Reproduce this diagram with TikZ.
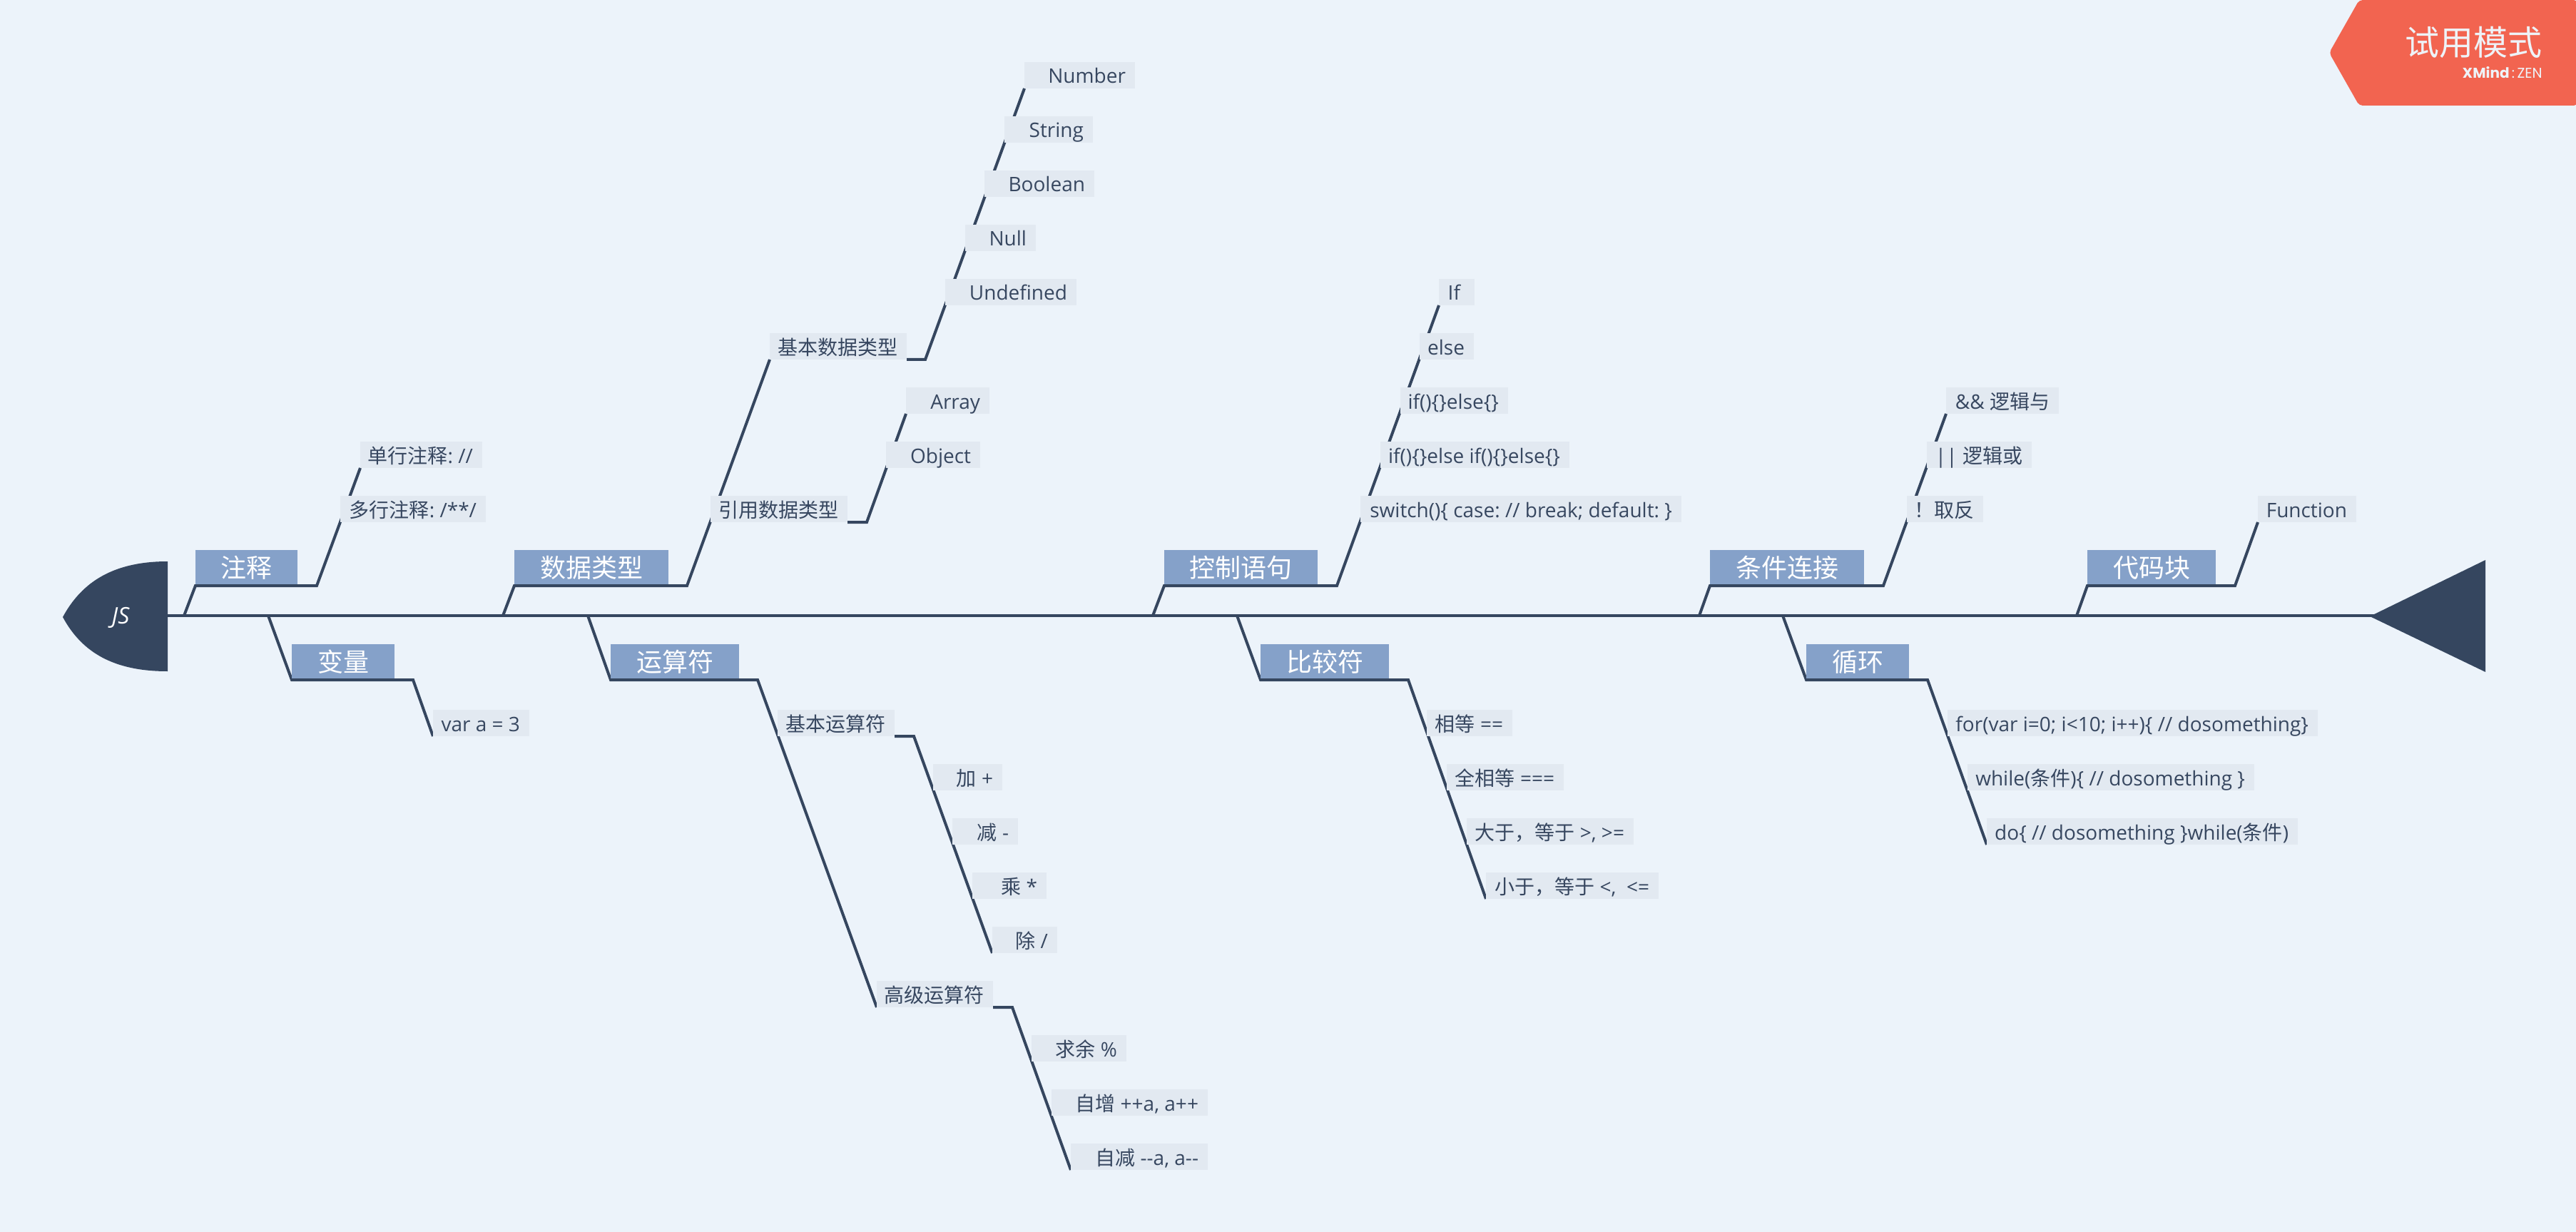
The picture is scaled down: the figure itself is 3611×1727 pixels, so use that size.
\documentclass[tikz,border=0pt]{standalone}
\usepackage{fontspec}
\setmainfont{Open Sans}
\newfontfamily\cjk{Noto Sans CJK SC}
\newfontfamily\popf{Poppins}
\newcommand{\zh}[1]{{\cjk #1}}
\AtBeginDocument{\frenchspacing}
\definecolor{pagebg}{HTML}{ECF3FA}
\definecolor{bonecol}{HTML}{35465F}
\definecolor{leaffill}{HTML}{E2E9F1}
\definecolor{topicfill}{HTML}{85A1C9}
\definecolor{badgecol}{HTML}{F26450}
\definecolor{leaftext}{HTML}{374760}
\definecolor{badgetext}{HTML}{EEF3F8}
\pgfdeclarelayer{bglayer}
\pgfdeclarelayer{lines}
\pgfsetlayers{bglayer,lines,main}
\tikzset{
  bone/.style={draw=bonecol,line width=2pt,line join=miter},
  spineline/.style={draw=bonecol,line width=2.4pt},
  leafbox/.style={fill=leaffill,text=leaftext,font=\fontsize{14pt}{16pt}\selectfont,
    inner ysep=0pt,inner xsep=6.5pt,outer sep=0pt,
    text height=15pt,text depth=3.5pt},
  topicbox/.style={fill=topicfill,text=white,font=\fontsize{18pt}{20pt}\selectfont,
    inner ysep=0pt,inner xsep=0pt,outer xsep=0pt,outer ysep=1pt,
    text height=19pt,text depth=5pt,align=center},
  badgelabel/.style={text=badgetext,inner sep=0pt,anchor=base east},
}
\newlength{\lfw}
\newcommand{\lf}[5]{\setlength{\lfw}{\dimexpr #4pt-#2pt-26pt\relax}\setlength{\lfw}{0.5\lfw}%
  \node[leafbox] (#1) at ({(#2+#4)/2},{#3+18.5}) {\makebox[\lfw][r]{#5}};}
\newcommand{\tp}[5]{\node[topicbox,minimum width={(#4-#2)*0.5pt}] (#1) at ({(#2+#4)/2},#3) {\zh{#5}};}
\begin{document}
\begin{tikzpicture}[x=0.5pt,y=-0.5pt]
\useasboundingbox (0,0) rectangle (3611,1727);
\begin{pgfonlayer}{bglayer}
\fill[pagebg] (0,0) rectangle (3611,1727);
\end{pgfonlayer}

% badge
\fill[badgecol,rounded corners=2.5pt] (3265,74) -- (3307,0) -- (3613,0) -- (3613,148) -- (3307,148) -- cycle;
\node[badgelabel,font=\cjk\fontsize{24pt}{26pt}\selectfont] (trial) at (3564,78) {试用模式};
\node[badgelabel,font=\popf\fontsize{10pt}{12pt}\selectfont] (brand) at (3564,110) {\textbf{XMind}\,:\,ZEN};

% head and tail
\fill[bonecol] (235,787) .. controls (160,787) and (115,815) .. (88,865) .. controls (115,915) and (160,941) .. (235,941) -- cycle;
\node[text=white,font=\fontsize{16pt}{18pt}\selectfont\itshape,inner sep=0pt] (head) at (169,866) {JS};
\fill[bonecol] (3322,864) -- (3484,785) -- (3484,942) -- cycle;
\coordinate (spinestart) at (235,863);
\coordinate (spineend) at (3330,863);

% topics
\tp{t1}{274}{795}{417}{注释}
\tp{t2}{409}{927}{553}{变量}
\tp{t3}{721}{795}{937}{数据类型}
\tp{t4}{856}{927}{1036}{运算符}
\tp{t5}{1632}{795}{1847}{控制语句}
\tp{t6}{1767}{927}{1947}{比较符}
\tp{t7}{2397}{795}{2613}{条件连接}
\tp{t8}{2532}{927}{2676}{循环}
\tp{t9}{2926}{795}{3106}{代码块}

% leaves
\lf{a1}{505}{619}{676}{\zh{单行注释}: //}
\lf{a2}{477}{695}{681}{\zh{多行注释}: /**/}
\lf{b1}{607}{995}{742}{var a = 3}
\lf{c1}{1079}{467}{1271}{\zh{基本数据类型}}
\lf{c2}{996}{695}{1188}{\zh{引用数据类型}}
\lf{c11}{1436}{87}{1591}{Number}
\lf{c12}{1408}{163}{1532}{String}
\lf{c13}{1380}{239}{1534}{Boolean}
\lf{c14}{1353}{315}{1452}{Null}
\lf{c15}{1325}{391}{1509}{Undefined}
\lf{c21}{1270}{543}{1387}{Array}
\lf{c22}{1242}{619}{1374}{Object}
\lf{d1}{1090}{995}{1254}{\zh{基本运算符}}
\lf{d2}{1229}{1375}{1392}{\zh{高级运算符}}
\lf{d11}{1308}{1071}{1405}{\zh{加} +}
\lf{d12}{1335}{1147}{1427}{\zh{减} -}
\lf{d13}{1363}{1223}{1467}{\zh{乘} *}
\lf{d14}{1391}{1299}{1482}{\zh{除} /}
\lf{d21}{1446}{1451}{1579}{\zh{求余} \%}
\lf{d22}{1474}{1527}{1693}{\zh{自增} ++a, a++}
\lf{d23}{1501}{1603}{1693}{\zh{自减} {-}{-}a, a{-}{-}}
\lf{e1}{2017}{391}{2067}{If\hspace{3.5pt}}
\lf{e2}{1990}{467}{2066}{else}
\lf{e3}{1963}{543}{2114}{if()\{\}else\{\}}
\lf{e4}{1935}{619}{2200}{if()\{\}else if()\{\}else\{\}}
\lf{e5}{1907}{695}{2357}{switch()\{ case: // break; default: \}}
\lf{f1}{2000}{995}{2120}{\zh{相等} ==}
\lf{f2}{2028}{1071}{2192}{\zh{全相等} ===}
\lf{f3}{2056}{1147}{2290}{\zh{大于，等于} >, >=}
\lf{f4}{2083}{1223}{2325}{\zh{小于，等于} <,\ \ <=}
\lf{g1}{2728}{543}{2886}{\&\& \zh{逻辑与}}
\lf{g2}{2701}{619}{2848}{|| \zh{逻辑或}}
\lf{g3}{2673}{695}{2780}{\zh{！取反}}
\lf{h1}{2730}{995}{3249}{for(var i=0; i<10; i++)\{ // dosomething\}}
\lf{h2}{2758}{1071}{3160}{while(\zh{条件})\{ // dosomething \}}
\lf{h3}{2785}{1147}{3221}{do\{ // dosomething \}while(\zh{条件})}
\lf{i1}{3165}{695}{3303}{Function}

% feet on the spine and elbows
\coordinate (ft1) at (258,863);  \coordinate (el1) at (444,821);
\coordinate (ft2) at (376,863);  \coordinate (el2) at (579,953);
\coordinate (ft3) at (705,863);  \coordinate (el3) at (963,821);
\coordinate (ft4) at (824,863);  \coordinate (el4) at (1062,953);
\coordinate (ft5) at (1616,863); \coordinate (el5) at (1874,821);
\coordinate (ft6) at (1734,863); \coordinate (el6) at (1974,953);
\coordinate (ft7) at (2382,863); \coordinate (el7) at (2640,821);
\coordinate (ft8) at (2499,863); \coordinate (el8) at (2702,953);
\coordinate (ft9) at (2911,863); \coordinate (el9) at (3133,821);
\coordinate (elc1) at (1297,504);
\coordinate (elc2) at (1215,732);
\coordinate (eld1) at (1281,1032);
\coordinate (eld2) at (1419,1412);

\begin{pgfonlayer}{lines}
\draw[spineline] (spinestart) -- (spineend);
\draw[bone] (ft1) -- (t1.south west) -- (t1.south east) -- (el1) -- (a1.south west);
\draw[bone] (ft2) -- (t2.south west) -- (t2.south east) -- (el2) -- (b1.south west);
\draw[bone] (ft3) -- (t3.south west) -- (t3.south east) -- (el3) -- (c1.south west);
\draw[bone] (ft4) -- (t4.south west) -- (t4.south east) -- (el4) -- (d2.south west);
\draw[bone] (ft5) -- (t5.south west) -- (t5.south east) -- (el5) -- (e1.south west);
\draw[bone] (ft6) -- (t6.south west) -- (t6.south east) -- (el6) -- (f4.south west);
\draw[bone] (ft7) -- (t7.south west) -- (t7.south east) -- (el7) -- (g1.south west);
\draw[bone] (ft8) -- (t8.south west) -- (t8.south east) -- (el8) -- (h3.south west);
\draw[bone] (ft9) -- (t9.south west) -- (t9.south east) -- (el9) -- (i1.south west);
\draw[bone] (c1.south east) -- (elc1) -- (c11.south west);
\draw[bone] (c2.south east) -- (elc2) -- (c21.south west);
\draw[bone] (d1.south east) -- (eld1) -- (d14.south west);
\draw[bone] (d2.south east) -- (eld2) -- (d23.south west);
\end{pgfonlayer}
\end{tikzpicture}
\end{document}
